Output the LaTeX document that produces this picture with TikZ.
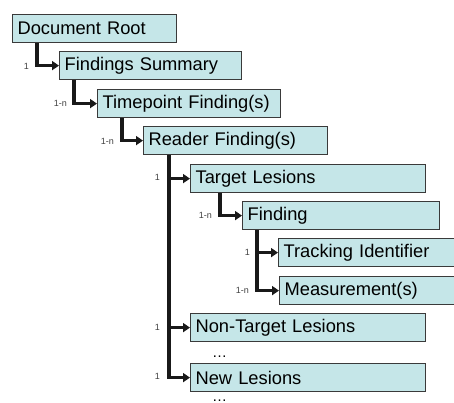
\documentclass[tikz,border=0pt]{standalone}
\usepackage{fontspec}
\setmainfont{Liberation Sans}
\usetikzlibrary{arrows.meta,calc}
\definecolor{boxfill}{HTML}{C5E6E8}
\definecolor{boxline}{HTML}{3A3A3A}
\definecolor{lbl}{HTML}{404040}
\tikzset{
  box/.style={draw=boxline, fill=boxfill, line width=1.2pt, minimum height=28pt,
    inner xsep=5pt, inner ysep=0pt, anchor=north west, align=left,
    font=\fontsize{18.3}{18.3}\selectfont},
  conn/.style={line width=3.5pt, draw=black!90, -{Triangle[length=7pt,width=9pt]}},
  mult/.style={font=\fontsize{9}{9}\selectfont, text=lbl, inner sep=0pt, anchor=east},
  ell/.style={font=\fontsize{15}{15}\selectfont, inner sep=0pt, text depth=0pt, anchor=base west}
}
\begin{document}
\begin{tikzpicture}[x=1pt,y=-1pt]
\useasboundingbox (0,0) rectangle (454,403);
\node[box, text width=154pt] (root) at (12,14) {Document Root};
\node[box, text width=172pt] (fs) at (59,51) {Findings Summary};
\node[box, text width=173pt] (tf) at (97,89) {Timepoint Finding(s)};
\node[box, text width=174pt] (rf) at (143,126) {Reader Finding(s)};
\node[box, text width=225pt] (tl) at (190,164) {Target Lesions};
\node[box, text width=187pt] (fi) at (242,201) {Finding};
\node[box, text width=170pt] (ti) at (278,238) {Tracking Identifier};
\node[box, text width=170pt] (me) at (279,276) {Measurement(s)};
\node[box, text width=225pt] (nt) at (190,313) {Non-Target Lesions};
\node[box, text width=225pt] (nl) at (190,363) {New Lesions};
\node[ell] (d1) at (212,357) {\dots};
\node[ell] (d2) at (212,401) {\dots};
% connectors
\draw[conn] ($(root.south west)+(25,0)$) |- (fs.west);
\draw[conn] ($(fs.south west)+(15,0)$) |- (tf.west);
\draw[conn] ($(tf.south west)+(25,0)$) |- (rf.west);
\draw[conn] ($(rf.south west)+(26,0)$) |- (tl.west);
\draw[conn] ($(rf.south west)+(26,0)$) |- (nt.west);
\draw[conn] ($(rf.south west)+(26,0)$) |- (nl.west);
\draw[conn] ($(tl.south west)+(30,0)$) |- (fi.west);
\draw[conn] ($(fi.south west)+(15,0)$) |- (ti.west);
\draw[conn] ($(fi.south west)+(15,0)$) |- (me.west);
% multiplicities
\node[mult] (m1) at (29,66) {1};
\node[mult] (m2) at (67,103) {1-n};
\node[mult] (m3) at (114,141) {1-n};
\node[mult] (m4) at (160,177) {1};
\node[mult] (m5) at (212,215) {1-n};
\node[mult] (m6) at (250,252) {1};
\node[mult] (m7) at (249,290) {1-n};
\node[mult] (m8) at (160,327) {1};
\node[mult] (m9) at (160,376) {1};
\end{tikzpicture}
\end{document}
